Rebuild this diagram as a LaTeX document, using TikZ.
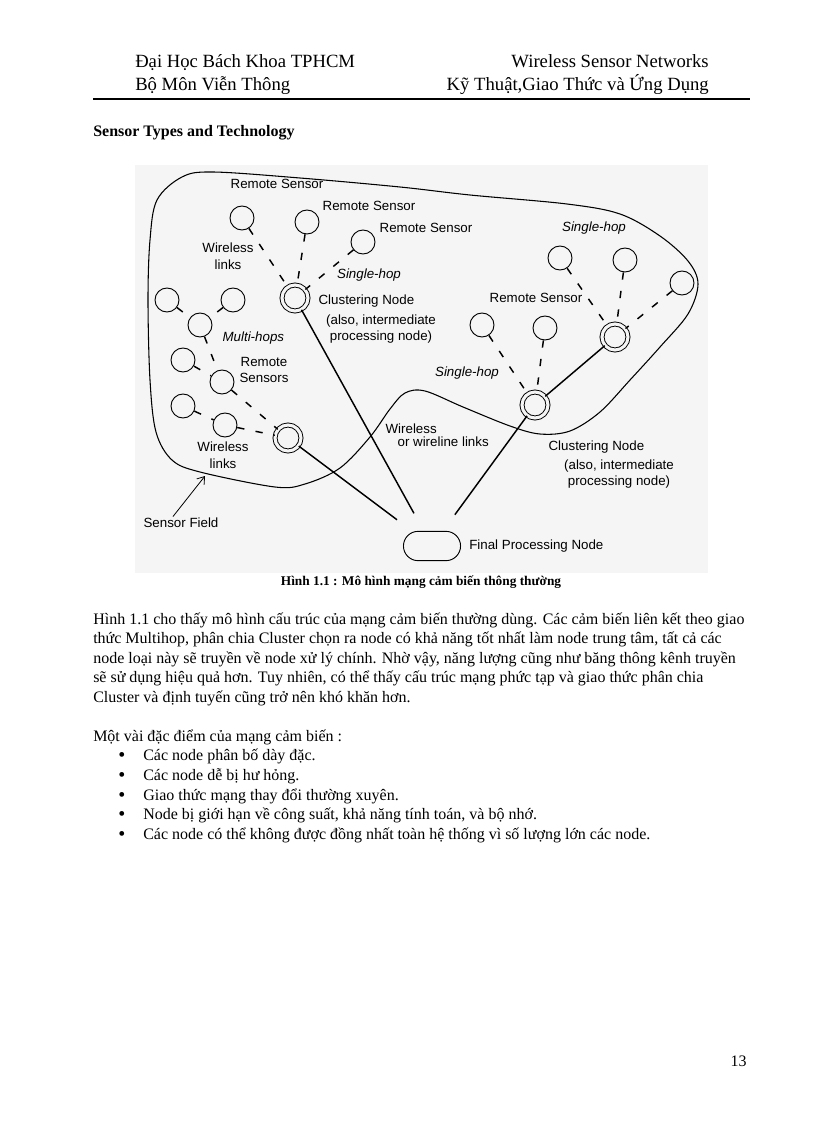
\documentclass[tikz,border=0pt]{standalone}
\usepackage{fontspec}
\setmainfont{Liberation Serif}
\setsansfont{Liberation Sans}
\usepackage{tikz}
\usetikzlibrary{arrows.meta,positioning,shapes.misc}
\definecolor{figbg}{RGB}{245,245,245}

\begin{document}
\begin{tikzpicture}[x=0.75pt,y=-0.75pt,>={Straight Barb[length=5pt,width=7pt]},
  sensor/.style={circle,draw,line width=0.7pt,minimum size=18pt,inner sep=0pt},
  cluster/.style={circle,draw,line width=0.7pt,double=figbg,double distance=2.3pt,minimum size=19.5pt,inner sep=0pt},
  hop/.style={line width=1.1pt,dash pattern=on 5.5pt off 8.5pt},
  feed/.style={line width=1.1pt,shorten >=15pt},
  lbl/.style={font=\sffamily\fontsize{10}{12.5}\selectfont,inner sep=1pt,align=center},
  ital/.style={lbl,font=\sffamily\itshape\fontsize{10}{12.5}\selectfont},
  body/.style={anchor=base west,inner sep=0pt,font=\fontsize{12}{14}\selectfont}]
  \useasboundingbox (0,0) rectangle (816,1123);

  % page header
  \node[body,font=\fontsize{14}{16}\selectfont] (hdA) at (135,68) {Đại Học Bách Khoa TPHCM};
  \node[body,anchor=base east,font=\fontsize{14}{16}\selectfont] (hdB) at (709,68) {Wireless Sensor Networks};
  \node[body,font=\fontsize{14}{16}\selectfont] (hdC) at (135,91) {Bộ Môn Viễn Thông};
  \node[body,anchor=base east,font=\fontsize{14}{16}\selectfont] (hdD) at (709,91) {Kỹ Thuật,Giao Thức và Ứng Dụng};
  \draw[line width=2.2pt] (93,99) -- (750,99);
  \node[body,font=\bfseries\fontsize{12}{14}\selectfont] (sec) at (93,137) {Sensor Types and Technology};

  % figure
  \fill[figbg] (135,165) rectangle (708,573);
  \draw[line width=0.8pt] plot[smooth cycle,tension=0.55] coordinates {
    (182,177) (213,172) (300,178) (400,187) (470,195) (567,204) (620,214)
    (660,236) (688,261) (698,284) (688,314) (660,347) (630,380) (600,412)
    (570,431) (540,434) (510,426) (463,407) (425,391) (405,393) (390,409)
    (370,437) (340,468) (305,484) (275,487) (200,472) (172,460) (156,432)
    (150,380) (148,300) (150,240) (157,200)};

  \node[sensor] (s1) at (242,218) {};
  \node[sensor] (s2) at (307,222) {};
  \node[sensor] (s3) at (363,242) {};
  \node[cluster] (c1) at (295,298) {};
  \node[sensor] (m1) at (167,300) {};
  \node[sensor] (m2) at (233,300) {};
  \node[sensor] (m3) at (200,325) {};
  \node[sensor] (m4) at (183,360) {};
  \node[sensor] (m5) at (222,382) {};
  \node[sensor] (m6) at (183,406) {};
  \node[sensor] (m7) at (225,425) {};
  \node[cluster] (c2) at (288,438) {};
  \node[sensor] (r1) at (560,258) {};
  \node[sensor] (r2) at (625,260) {};
  \node[sensor] (r5) at (682,283) {};
  \node[cluster] (c4) at (615,337) {};
  \node[sensor] (r3) at (482,325) {};
  \node[sensor] (r4) at (545,328) {};
  \node[cluster] (c3) at (535,405) {};
  \node[draw,rounded rectangle,line width=0.7pt,minimum width=49.5pt,minimum height=22pt] (fpn) at (432,546) {};

  \foreach \a in {s1,s2,s3} \draw[hop] (\a) -- (c1);
  \draw[hop] (m1) -- (m3);
  \draw[hop] (m2) -- (m3);
  \draw[hop] (m3) -- (m5);
  \draw[hop] (m4) -- (m5);
  \draw[hop] (m5) -- (c2);
  \draw[hop] (m6) -- (m7);
  \draw[hop] (m7) -- (c2);
  \foreach \a in {r1,r2,r5} \draw[hop] (\a) -- (c4);
  \foreach \a in {r3,r4} \draw[hop] (\a) -- (c3);
  \draw[line width=1.1pt] (c4) -- (c3);
  \foreach \a in {c1,c2,c3} \draw[feed] (\a) -- (fpn);

  \node[lbl] (rsA) at (277,184) {Remote Sensor};
  \node[lbl] (rsB) at (369,206) {Remote Sensor};
  \node[lbl] (rsC) at (426,228) {Remote Sensor};
  \node[lbl] (wlA) at (228,256) {Wireless\\links};
  \node[ital] (shA) at (369,275) {Single-hop};
  \node[lbl,anchor=west] (cnA) at (317,301) {Clustering Node};
  \node[lbl] (cnAx) at (381,329) {(also, intermediate\\processing node)};
  \node[ital,anchor=west] (mh) at (221,338) {Multi-hops};
  \node[lbl] (rss) at (264,370) {Remote\\Sensors};
  \node[lbl] (wlB) at (223,455) {Wireless\\links};
  \node[lbl] (sf) at (181,523) {Sensor Field};
  \node[lbl,anchor=west] (wwA) at (384,429) {Wireless};
  \node[lbl,anchor=west] (wwB) at (396,442) {or wireline links};
  \node[ital] (shB) at (467,373) {Single-hop};
  \node[lbl] (rsD) at (536,298) {Remote Sensor};
  \node[ital] (shC) at (594,228) {Single-hop};
  \node[lbl,anchor=west] (cnB) at (547,447) {Clustering Node};
  \node[lbl] (cnBx) at (619,474) {(also, intermediate\\processing node)};
  \node[lbl,right=5pt of fpn] (fpnl) {Final Processing Node};
  \coordinate (sfpt) at (205,476);
  \draw[->,line width=0.6pt] ([xshift=-6pt]sf.north) -- (sfpt);

  \node[body,anchor=base,font=\bfseries\fontsize{10}{12}\selectfont] (cap) at (421,585) {Hình 1.1 : Mô hình mạng cảm biến thông thường};

  % text below the figure
  \node[body] (pA) at (93,624) {Hình 1.1 cho thấy mô hình cấu trúc của mạng cảm biến thường dùng. Các cảm biến liên kết theo giao};
  \node[body] (pB) at (93,643.5) {thức Multihop, phân chia Cluster chọn ra node có khả năng tốt nhất làm node trung tâm, tất cả các};
  \node[body] (pC) at (93,663) {node loại này sẽ truyền về node xử lý chính. Nhờ vậy, năng lượng cũng như băng thông kênh truyền};
  \node[body] (pD) at (93,682.5) {sẽ sử dụng hiệu quả hơn. Tuy nhiên, có thể thấy cấu trúc mạng phức tạp và giao thức phân chia};
  \node[body] (pE) at (93,702) {Cluster và định tuyến cũng trở nên khó khăn hơn.};

  \node[body] (lst) at (93,741) {Một vài đặc điểm của mạng cảm biến :};
  \foreach \i/\t in {1/{Các node phân bố dày đặc.},2/{Các node dễ bị hư hỏng.},3/{Giao thức mạng thay đổi thường xuyên.},4/{Node bị giới hạn về công suất, khả năng tính toán, và bộ nhớ.},5/{Các node có thể không được đồng nhất toàn hệ thống vì số lượng lớn các node.}} {
    \node[body,font=\fontsize{15}{15}\selectfont] (bu\i) at (118,742+19.7*\i) {\textbullet};
    \node[body] (it\i) at (143,741+19.7*\i) {\t};
  }

  \node[body,anchor=base east] (pg) at (747,1066) {13};
\end{tikzpicture}
\end{document}
